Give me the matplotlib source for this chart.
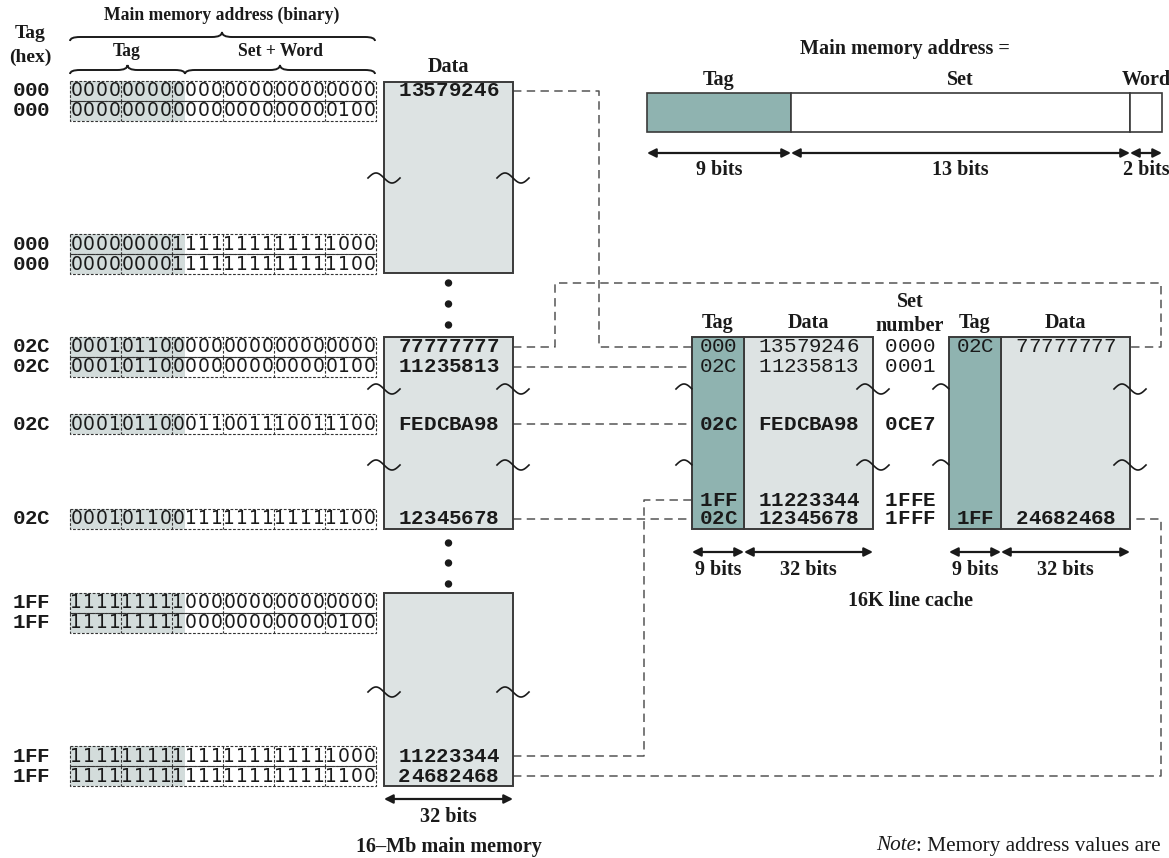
import matplotlib.pyplot as plt
import numpy as np
from matplotlib.patches import Rectangle, Circle, PathPatch
from matplotlib.path import Path

plt.rcParams['font.family'] = 'Liberation Serif'

MONO = 'Liberation Mono'
BIN_FONT = 'DejaVu Sans'
EDGE = '#3a3a3a'
BOX = '#dde3e3'
TEAL = '#8fb3b0'
SHADE = '#d3dcdb'
DASH = '#555555'

# ---- data ----
tag_hex = ['000', '000', '000', '000', '02C', '02C', '02C', '02C',
           '1FF', '1FF', '1FF', '1FF']
addr_bin = ['000000000000000000000000', '000000000000000000000100',
            '000000001111111111111000', '000000001111111111111100',
            '000101100000000000000000', '000101100000000000000100',
            '000101100011001110011100', '000101100111111111111100',
            '111111111000000000000000', '111111111000000000000100',
            '111111111111111111111000', '111111111111111111111100']
mem_data = ['13579246', '', '', '', '77777777', '11235813', 'FEDCBA98',
            '12345678', '', '', '11223344', '24682468']

cache_set = ['0000', '0001', '0CE7', '1FFE', '1FFF']
cache_tag1 = ['000', '02C', '02C', '1FF', '02C']
cache_data1 = ['13579246', '11235813', 'FEDCBA98', '11223344', '12345678']
cache_tag2 = ['02C', '', '', '', '1FF']
cache_data2 = ['77777777', '', '', '', '24682468']

field_names = ['Tag', 'Set', 'Word']
field_bits = ['9 bits', '13 bits', '2 bits']

# ---- layout (pixels) ----
row_y = [91, 111, 244, 264, 347, 367, 424, 519, 603, 623, 756, 776]
cache_y = [347, 367, 424, 500, 519]
mem_boxes = [(82, 273), (337, 529), (593, 786)]
MX0, MX1 = 384, 513
MXC = (MX0 + MX1) / 2
BX0, PITCH = 70, 12.75

fig = plt.figure(figsize=(11.69, 8.58), dpi=100)
ax = fig.add_axes([0, 0, 1, 1])
ax.set_xlim(0, 1169)
ax.set_ylim(858, 0)
ax.axis('off')


def mono(x, y, s, pitch, size=15, weight='bold', left=False, family=MONO):
    x0 = x + pitch / 2 if left else x - pitch * (len(s) - 1) / 2
    for i, ch in enumerate(s):
        ax.text(x0 + i * pitch, y, ch, fontsize=size, family=family,
                weight=weight, ha='center', va='center', color='#1a1a1a')


def label(x, y, s, size=14.5, **kw):
    ax.text(x, y, s, fontsize=size, weight='bold', ha='center', va='center',
            color='#1a1a1a', **kw)


def tilde(xc, y, clip=None, w=32, amp=5):
    t = np.linspace(0, 1, 80)
    xs = xc - w / 2 + w * t
    ys = y - amp * np.sin(2 * np.pi * t)
    m = xs <= clip if clip is not None else np.ones_like(xs, bool)
    ax.plot(xs[m], ys[m], color='#1a1a1a', lw=1.2, zorder=5)


def dashed(xs, ys):
    ax.plot(xs, ys, color=DASH, lw=1.1, dashes=(5.5, 3.5), zorder=1)


def arrow(x0, x1, y):
    ax.annotate('', xy=(x1, y), xytext=(x0, y),
                arrowprops=dict(arrowstyle='<|-|>', color='#1a1a1a', lw=1.6,
                                mutation_scale=13, shrinkA=0, shrinkB=0))


def brace(x0, x1, y, xm=None, a=4, b=5, r=10):
    xm = (x0 + x1) / 2 if xm is None else xm
    verts = [(x0, y + a), (x0, y), (x0 + r, y), (xm - r, y), (xm, y), (xm, y - b),
             (xm, y), (xm + r, y), (x1 - r, y), (x1, y), (x1, y + a)]
    codes = [Path.MOVETO, Path.CURVE3, Path.CURVE3, Path.LINETO, Path.CURVE3,
             Path.CURVE3, Path.CURVE3, Path.CURVE3, Path.LINETO, Path.CURVE3,
             Path.CURVE3]
    ax.add_patch(PathPatch(Path(verts, codes), fill=False, lw=1.4, color='#1a1a1a'))


# ---- left headings ----
label(30.5, 33, 'Tag', 14)
label(30.5, 57, '(hex)', 14)
label(222, 15, 'Main memory address (binary)', 12.7)
brace(70, 375, 37, xm=222)
label(127, 52, 'Tag', 12.7)
label(280, 52, 'Set + Word', 12.7)
brace(70, 185, 70)
brace(185, 375, 70, xm=280)

# ---- binary addresses ----
RH = 19.5
for y, th, bits in zip(row_y, tag_hex, addr_bin):
    mono(30.5, y, th, 12, 15, 'bold')
    ax.add_patch(Rectangle((BX0, y - RH / 2), 9 * PITCH, RH, fc=SHADE, ec='none', zorder=0))
    ax.add_patch(Rectangle((BX0, y - RH / 2), 24 * PITCH, RH, fill=False, ec='#333',
                           lw=0.8, ls=(0, (2.5, 1.5)), zorder=2))
    for k in range(4, 24, 4):
        ax.plot([BX0 + k * PITCH] * 2, [y - RH / 2, y + RH / 2], color='#333',
                lw=0.8, dashes=(2.5, 1.5), zorder=2)
    mono(BX0, y, bits, PITCH, 13.5, 'normal', left=True, family=BIN_FONT)

# ---- main memory boxes ----
label(MXC, 67, 'Data', 14.5)
for top, bot in mem_boxes:
    ax.add_patch(Rectangle((MX0, top), MX1 - MX0, bot - top, fc=BOX, ec=EDGE, lw=1.4, zorder=3))
for y, d in zip(row_y, mem_data):
    if d:
        mono(MXC, y, d, 12.6, 15, 'bold')
for y in [178, 389, 465, 692]:
    tilde(MX0, y)
    tilde(MX1, y)
for y in [283, 304, 325, 543, 563, 584]:
    ax.add_patch(Circle((MXC, y), 3, color='#1a1a1a'))
arrow(MX0, MX1, 799)
label(MXC, 817, '32 bits', 14.5)
label(MXC, 847, '16\u2013Mb main memory', 14.5)

# ---- address format ----
label(905, 49, 'Main memory address =', 14.5)
fx = [647, 791, 1130, 1162]
for i, (nm, bt) in enumerate(zip(field_names, field_bits)):
    ax.add_patch(Rectangle((fx[i], 93), fx[i + 1] - fx[i], 39,
                           fc=TEAL if i == 0 else 'white', ec=EDGE, lw=1.2))
    arrow(fx[i], fx[i + 1], 153)
    xc = (fx[i] + fx[i + 1]) / 2 if i < 2 else 1146
    label(xc, 80, nm, 14.5)
    label(xc, 170, bt, 14.5)

# ---- cache ----
CT, CB = 337, 529
ways = [(692, 744, 873), (949, 1001, 1130)]
for tx0, tx1, dx1 in ways:
    ax.add_patch(Rectangle((tx1, CT), dx1 - tx1, CB - CT, fc=BOX, ec=EDGE, lw=1.4, zorder=3))
    ax.add_patch(Rectangle((tx0, CT), tx1 - tx0, CB - CT, fc=TEAL, ec=EDGE, lw=1.4, zorder=3))
    label((tx0 + tx1) / 2, 323, 'Tag', 14.5)
    label((tx1 + dx1) / 2, 323, 'Data', 14.5)
    arrow(tx0, tx1, 552)
    arrow(tx1, dx1, 552)
    label((tx0 + tx1) / 2, 570, '9 bits', 14.5)
    label((tx1 + dx1) / 2, 570, '32 bits', 14.5)
    for y in [389, 465]:
        tilde(tx0, y, clip=tx0)
        tilde(dx1, y)
label(910, 302, 'Set', 14.5)
label(910, 326, 'number', 14.5)
label(910, 601, '16K line cache', 14.5)

for i, y in enumerate(cache_y):
    w = 'normal' if i < 2 else 'bold'
    mono(718, y, cache_tag1[i], 12, 15, w)
    mono(808.5, y, cache_data1[i], 12.5, 15, w)
    mono(885, y, cache_set[i], 12.5, 15, w, left=True)
    if cache_tag2[i]:
        w2 = 'normal' if i == 0 else 'bold'
        mono(975, y, cache_tag2[i], 12, 15, w2)
        mono(1065.5, y, cache_data2[i], 12.5, 15, w2)

# ---- mapping lines ----
dashed([MX1, 599, 599, 692], [91, 91, 347, 347])
dashed([MX1, 555, 555, 1161, 1161, 1130], [347, 347, 283, 283, 347, 347])
dashed([MX1, 692], [367, 367])
dashed([MX1, 692], [424, 424])
dashed([MX1, 692], [519, 519])
dashed([MX1, 644, 644, 692], [756, 756, 500, 500])
dashed([MX1, 1161, 1161, 1130], [776, 776, 519, 519])

# ---- note ----
nt = ax.text(876, 846, 'Note', fontsize=15.3, style='italic', ha='left', va='center',
             color='#1a1a1a')
ax.annotate(': Memory address values are', xy=(1, 0.5), xycoords=nt,
            fontsize=15.3, ha='left', va='center', color='#1a1a1a')

fig.savefig('out.png', dpi=100)
